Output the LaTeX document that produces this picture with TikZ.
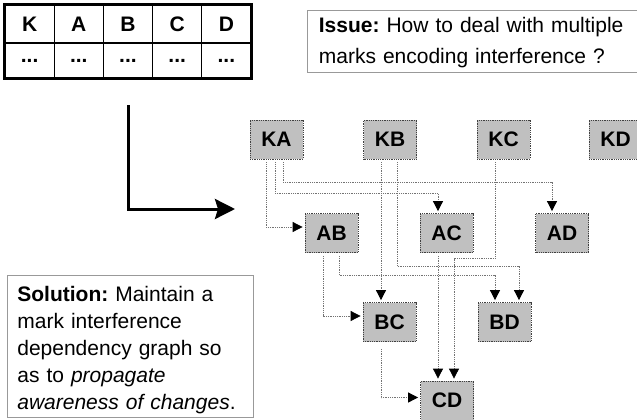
\documentclass[tikz,border=0pt]{standalone}
\usepackage{fontspec}
\setmainfont{Liberation Sans}
\usetikzlibrary{arrows.meta,calc}
\definecolor{nodefill}{HTML}{C0C0C0}
\frenchspacing
\begin{document}
\begin{tikzpicture}[x=1pt,y=-1pt,
  gnode/.style={draw=black!75, densely dotted, line width=0.8pt, fill=nodefill, minimum width=53pt, minimum height=39pt, inner sep=0pt, font=\fontsize{21}{21}\selectfont\bfseries},
  edge/.style={draw=black!55, densely dotted, line width=0.8pt, shorten <=3pt, shorten >=2pt, -{Triangle[length=10pt,width=10pt,color=black]}},
  cell/.style={draw=black, line width=1.2pt, minimum width=49.2pt, inner sep=0pt, font=\fontsize{21}{21}\selectfont\bfseries},
  textbox/.style={draw=black!40, line width=0.7pt, inner xsep=10pt, inner ysep=0pt, align=left, anchor=north west}
]
\useasboundingbox (0,0) rectangle (637,420);

% table
\foreach \l [count=\i] in {K,A,B,C,D} {
  \node[cell, minimum height=38pt] (h\i) at ({5+49.2*(\i-0.5)},24) {\l};
  \node[cell, minimum height=35pt] (v\i) at ({5+49.2*(\i-0.5)},60.5) {...};
}
\draw[line width=2.5pt] (h1.north west) rectangle (v5.south east);

% issue
\node[textbox, minimum width=335pt, minimum height=62pt, text width=312pt, font=\fontsize{21}{31}\selectfont] (issue) at (307,10)
  {\rule{0pt}{18pt}\textbf{Issue:} How to deal with multiple\\marks encoding interference ?};

% solution
\node[textbox, minimum width=244pt, minimum height=142pt, text width=226pt, font=\fontsize{21}{27}\selectfont] (sol) at (7,275)
  {\rule{0pt}{23pt}\textbf{Solution:} Maintain a\\mark interference\\dependency graph so\\as to \textit{propagate}\\\textit{awareness of changes}.};

% big arrow
\coordinate (Ls) at (128,105);
\coordinate (Le) at (235,209);
\draw[line width=3pt, -{Stealth[length=20pt,width=20pt,inset=3pt]}] (Ls) |- (Le);

% graph nodes
\node[gnode] (KA) at (276.5,139.5) {KA};
\node[gnode] (KB) at (390,139.5) {KB};
\node[gnode] (KC) at (503.5,139.5) {KC};
\node[gnode] (KD) at (615.5,139.5) {KD};
\node[gnode] (AB) at (331.5,233) {AB};
\node[gnode] (AC) at (446.5,233) {AC};
\node[gnode] (AD) at (562,233) {AD};
\node[gnode] (BC) at (389.5,322) {BC};
\node[gnode] (BD) at (504.5,322) {BD};
\node[gnode] (CD) at (447,400.5) {CD};

% edges
\draw[edge] ([xshift=-10.5pt]KA.south) |- ([yshift=6pt]AB.west);
\draw[edge] ([xshift=-1.5pt]KA.south) |- ([xshift=-8.5pt,yshift=20pt]AC.north) -- ([xshift=-8.5pt]AC.north);
\draw[edge] ([xshift=6.5pt]KA.south) |- ([xshift=-10pt,yshift=31pt]AD.north) -- ([xshift=-10pt]AD.north);
\draw[edge] ([xshift=-9pt]KB.south) -- ([xshift=-9pt]KB.south |- BC.north);
\draw[edge] ([xshift=7pt]KB.south) |- ([xshift=14.5pt,yshift=36pt]BD.north) -- ([xshift=14.5pt]BD.north);
\draw[edge] ([xshift=-8.5pt]KC.south) |- ([xshift=7pt,yshift=122pt]CD.north) -- ([xshift=7pt]CD.north);
\draw[edge] ([xshift=-8.5pt]AC.south) -- ([xshift=-8.5pt]AC.south |- CD.north);
\draw[edge] ([xshift=-8.5pt]AB.south) |- ([yshift=6pt]BC.west);
\draw[edge] ([xshift=7.5pt]AB.south) |- ([xshift=-9.5pt,yshift=27pt]BD.north) -- ([xshift=-9.5pt]BD.north);
\draw[edge, shorten <=7pt] ([xshift=-8.5pt]BC.south) |- ([yshift=3pt]CD.west);
\end{tikzpicture}
\end{document}
